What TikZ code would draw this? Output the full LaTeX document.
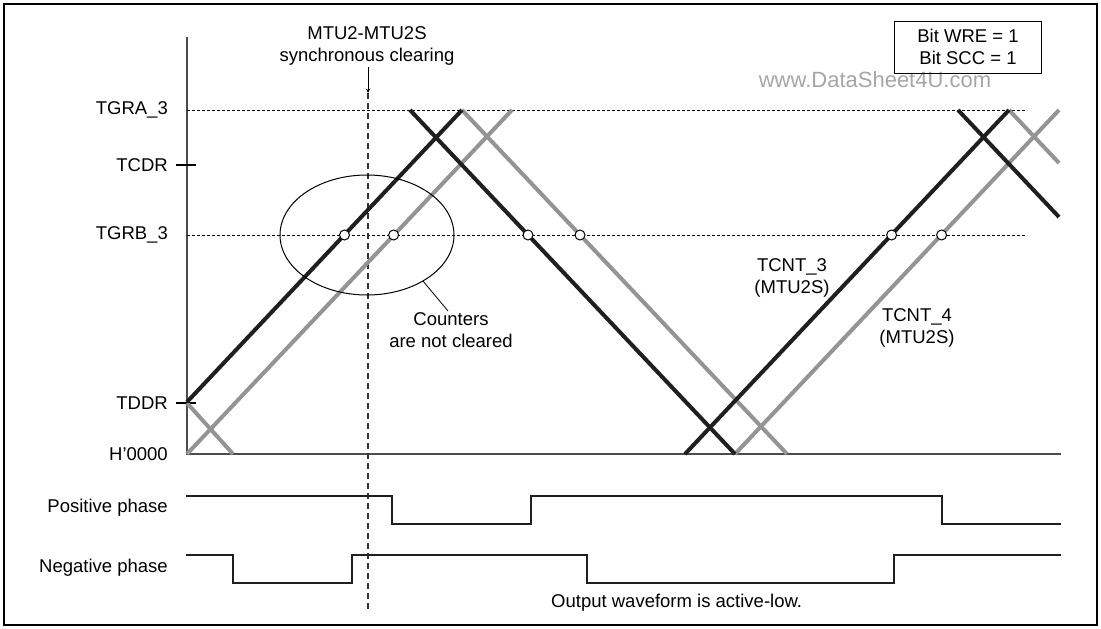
\documentclass[tikz,border=0pt]{standalone}
\usepackage{fontspec}
\setmainfont{Liberation Sans}
\usetikzlibrary{calc}

\newcommand*{\ytgra}{110}
\newcommand*{\ytcdr}{165}
\newcommand*{\ytgrb}{235}
\newcommand*{\ytddr}{403}
\newcommand*{\yzero}{454}
\newcommand*{\xaxis}{187}
\newcommand*{\xend}{1061}

\begin{document}
\begin{tikzpicture}
[
	x=1pt,y=-1pt,
	every node/.style={inner sep=0pt,font=\fontsize{18.5}{22.5}\selectfont},
	levellbl/.style={anchor=east},
	openpt/.style={circle,draw,fill=white,line width=1pt,inner sep=0pt,minimum size=10pt},
	cntblack/.style={line width=4pt,black!88},
	cntgray/.style={line width=4pt,black!42},
	level/.style={line width=1pt,dash pattern=on 3pt off 2pt},
	wave/.style={line width=2.6pt,black!88},
	axisline/.style={line width=1.5pt,black!70}
]

	\useasboundingbox (0,0) rectangle (1101,629);
	\draw[line width=2pt] (4,4) rectangle (1097,625);

	% level labels
	\node[levellbl] (tgra) at (168,\ytgra) {TGRA\_3};
	\node[levellbl] (tcdr) at (168,\ytcdr) {TCDR};
	\node[levellbl] (tgrb) at (168,\ytgrb) {TGRB\_3};
	\node[levellbl] (tddr) at (168,\ytddr) {TDDR};
	\node[levellbl] (hzero) at (168,\yzero) {H'0000};

	% axes
	\draw[axisline] (\xaxis,37) -- (\xaxis,\yzero) -- (\xend,\yzero);
	\draw[line width=1.2pt] (176,\ytcdr) -- (196,\ytcdr);
	\draw[line width=1.2pt] (176,\ytddr) -- (196,\ytddr);

	% compare levels
	\draw[level] (\xaxis,\ytgra) -- (1027,\ytgra);
	\draw[level] (\xaxis,\ytgrb) -- (1027,\ytgrb);

	% synchronous clearing
	\node[align=center] (title) at (367,46) {MTU2-MTU2S\\synchronous clearing};
	\coordinate (clr) at (368,93);
	\draw[->,>=stealth,line width=1pt] (title.south) ++(1,1) -- (clr);
	\draw[line width=1.2pt,dash pattern=on 6pt off 4pt,black!80] (clr) -- (368,610);

	% watermark and mode box
	\node[text=black!35,font=\fontsize{22}{26}\selectfont] (wmark) at (875,80) {www.DataSheet4U.com};
	\node[draw,line width=1pt,align=center,minimum width=147pt,minimum height=52pt] (mode) at (968,47) {Bit WRE = 1\\Bit SCC = 1};

	% TCNT_4 (gray)
	\draw[cntgray] (\xaxis,\ytddr) -- (233,\yzero);
	\draw[cntgray] (\xaxis,\yzero) -- (512,\ytgra);
	\draw[cntgray] (462,\ytgra) -- (787,\yzero);
	\draw[cntgray] (735,\yzero) -- (1059,\ytgra);
	\draw[cntgray] (1009,\ytgra) -- (1059,163);

	% TCNT_3 (black)
	\draw[cntblack] (\xaxis,402) -- (462,\ytgra);
	\draw[cntblack] (410,\ytgra) -- (735,\yzero);
	\draw[cntblack] (685,\yzero) -- (1009,\ytgra);
	\draw[cntblack] (958,\ytgra) -- (1059,217);

	% compare match points
	\node[openpt] (m1) at (344.5,\ytgrb) {};
	\node[openpt] (m2) at (393.6,\ytgrb) {};
	\node[openpt] (m3) at (528,\ytgrb) {};
	\node[openpt] (m4) at (580,\ytgrb) {};
	\node[openpt] (m5) at (891.6,\ytgrb) {};
	\node[openpt] (m6) at (941.6,\ytgrb) {};

	% counters not cleared
	\draw[line width=1pt] (367,\ytgrb) ellipse [x radius=87pt, y radius=60pt];
	\coordinate (oval) at ($(367,\ytgrb)+(-50:87pt and 60pt)$);
	\node[align=center] (cnt) at (451,330) {Counters\\are not cleared};
	\draw[line width=0.8pt] (cnt.north) ++(-3,-1) -- (oval);

	\node[align=center] (tcnt3) at (792,278) {TCNT\_3\\(MTU2S)};
	\node[align=center] (tcnt4) at (917,328) {TCNT\_4\\(MTU2S)};

	% output waveforms
	\node[levellbl] (pos) at (168,508) {Positive phase};
	\node[levellbl] (neg) at (168,568) {Negative phase};
	\draw[wave] (186,496) -- (392,496) -- (392,524) -- (531,524) -- (531,496)
		-- (942,496) -- (942,524) -- (\xend,524);
	\draw[wave] (186,555) -- (233,555) -- (233,583) -- (352,583) -- (352,555)
		-- (587,555) -- (587,583) -- (894,583) -- (894,555) -- (\xend,555);

	\node[anchor=west] (note) at (551,603) {Output waveform is active-low.};

\end{tikzpicture}
\end{document}
